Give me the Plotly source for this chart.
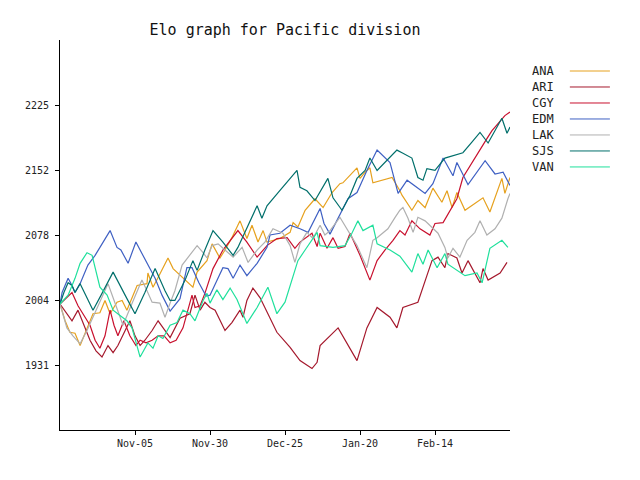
import plotly.graph_objects as go

# x = days since season start (Oct-11), y = Elo rating
ana_x = [0,1.7,3.3,5,6.7,9,11,13.3,15,16.7,19,20.7,22.3,25.7,29,29.3,31,32.7,36,37.7,39.3,44.3,45.7,49,50.7,53.3,55,57.3,60,62.3,64,66,67.7,69,73.3,76.7,77.7,79.3,81.7,85,87.7,90.7,93.3,94.3,99,100,101.7,103.3,104.3,107.3,110.7,113.3,114,117.3,119.3,121.7,124.3,127.3,129,130.7,132.3,135,141,143.3,147.3,148.3,150]
ana_y = [2000,1981,1968,1967,1953,1973,1989,1990,2004,1989,2002,2004,1993,2021,2023,2035,2019,2030,2052,2040,2035,2019,2036,2049,2068,2052,2061,2075,2094,2074,2089,2070,2083,2070,2074,2081,2092,2087,2106,2119,2109,2126,2136,2137,2154,2142,2149,2154,2137,2140,2143,2128,2123,2106,2117,2109,2131,2115,2128,2109,2126,2106,2120,2104,2142,2125,2143]

ari_x = [0,2,4,6,8,10,12,14,16,17.7,19.3,21.7,23.3,25,26.7,28.3,30.7,32.7,35,36.7,40,43.3,45,46.7,48.3,50,51.7,55,57.3,60,61,62.3,64.3,66.7,72.3,76.7,80,84,85.7,86.7,92.7,95.7,99,102.3,105.7,110,112.3,114.3,119.3,122.3,124,126,128.3,129.3,132.3,134,136,140,141,142.7,146.7,149]
ari_y = [2000,1990,1981,1993,1976,1959,1947,1940,1953,1945,1953,1970,1981,1964,1953,1959,1970,1981,1970,1962,1984,1989,2010,1993,2002,1996,1993,1970,1979,1993,1985,2004,2018,2007,1968,1951,1936,1927,1934,1953,1973,1955,1936,1973,1996,1985,1973,1996,2002,2032,2049,2053,2041,2057,2052,2035,2049,2024,2040,2027,2035,2047]

cgy_x = [0,1.7,4,6,8,10,11.7,13.3,15,16.7,18,19.3,21.3,23.3,25.3,26.7,28.7,30.7,32.7,34.7,36.7,38.7,41,44,45,46.7,48.3,51,54.3,59.3,62.3,65.7,69,72.3,75.7,78.3,80,84,85.7,86.7,89,91,92.7,95,96.7,100,103.3,105.7,108.3,111,113.3,115,117.3,120,123.3,125,127.7,130,132.3,134.3,137.3,140,142.3,144,146,148.3,150]
cgy_y = [2000,2006,2013,1998,1987,1976,1959,1950,1964,1993,1976,1964,1981,1964,1953,1959,1956,1959,1964,1964,1956,1959,1973,2010,1996,1998,2012,2040,2061,2083,2070,2053,2066,2074,2075,2063,2070,2080,2065,2080,2063,2075,2063,2065,2080,2055,2027,2049,2061,2072,2083,2078,2094,2085,2078,2091,2092,2106,2119,2143,2160,2174,2187,2196,2204,2213,2217]

edm_x = [0,0.7,2.7,4,5,6.7,9.3,11.7,16.7,19,20.3,22.7,25.3,28.7,31.7,34,36.7,40,42.3,44,46.3,48.7,50,54.3,56,57.7,60,62.3,65.7,69,70,73.3,76.7,80,82.7,86.7,88,90,96,99,100.7,102.3,105.7,110,112.7,115.7,121.7,124.3,127.7,131,132.3,136,141.7,145,147.7,150]
edm_y = [2000,2013,2029,2021,2013,2023,2044,2055,2083,2064,2061,2046,2070,2049,2029,2010,1992,2006,2041,2041,2024,2009,2010,2041,2040,2029,2044,2032,2046,2064,2078,2080,2089,2085,2081,2108,2091,2079,2119,2126,2140,2151,2174,2160,2125,2140,2125,2136,2165,2145,2160,2135,2162,2147,2149,2134]

lak_x = [0,2.3,4.3,6.7,9,11,13.3,16,17.7,19.3,21,23.3,25.7,27.3,29,30.7,33.3,35,36.7,38.3,40.7,43.3,45.7,47.7,49,50.7,52.7,55,57.7,60.7,62.7,65.7,68.3,71,74.3,76.7,78.3,80,82.3,84.3,86.7,88.3,90,93.3,96,99,102.3,104.3,105.7,109.3,111.7,113.3,114.3,116,117.7,119.3,121.7,124,126,128.3,129.3,131,133.3,135.7,138.3,140,142.3,145,147.3,149.3,150]
lak_y = [2000,1973,1964,1955,1970,1985,2004,2023,2007,1993,1976,1995,2015,2027,2015,2002,2001,1985,2001,2015,2044,2055,2066,2058,2052,2066,2068,2061,2053,2064,2047,2061,2070,2085,2080,2066,2047,2068,2081,2074,2089,2078,2083,2098,2083,2066,2041,2072,2075,2085,2098,2106,2109,2097,2081,2098,2094,2087,2080,2064,2052,2063,2053,2072,2081,2094,2078,2085,2097,2119,2125]

sjs_x = [0,1.3,2.7,4,5,6.7,8.7,11,13.7,17.7,21.7,25,28.3,31.7,35,36.7,38.3,41.7,44.3,45.7,48.3,51,54.3,57.7,59.3,62.7,65.7,67.3,69,72.7,76.7,79,80,82.3,85,87.3,89.3,91,94,96.7,99,101.7,103.3,105.7,109,112.3,114,117.3,119.3,121,122.3,125,128.3,131.7,134.3,137.3,140,142.7,145,147.3,149,150]
sjs_y = [2000,2013,2024,2021,2013,2023,2009,1993,2010,2036,2010,1989,2013,2040,2015,2004,2004,2027,2049,2038,2061,2083,2070,2055,2064,2089,2111,2097,2111,2126,2142,2151,2132,2128,2117,2131,2142,2120,2106,2123,2142,2151,2165,2151,2162,2174,2171,2165,2143,2140,2153,2151,2165,2168,2171,2183,2194,2182,2196,2210,2193,2200]

van_x = [0,2.7,5,6.7,9,10.7,11.7,13.3,15.7,17.7,20,22.3,24,26.7,29.3,31,32.7,34.3,36.7,39,41,43.3,45,47.7,49,50,52.3,54.3,56.7,59,62.3,65.7,69.3,72.3,75,77.3,79.3,81.7,84,85.7,86.7,91,95,97.3,99.3,101,104.3,105.7,110,113.3,117.3,119.3,121,122.7,125.7,128.3,129.3,135,139,140.7,143.3,147.3,149.3]
van_y = [2000,2010,2029,2046,2058,2055,2041,2019,2010,1993,1987,1981,1973,1940,1956,1950,1964,1961,1976,1979,1993,1989,1981,2004,2012,2001,2016,2005,2018,2005,1978,1996,2019,1989,2002,2027,2049,2061,2072,2081,2066,2064,2066,2080,2094,2083,2089,2068,2061,2054,2036,2057,2045,2061,2041,2057,2045,2032,2035,2024,2063,2072,2064]

teams = ["ANA", "ARI", "CGY", "EDM", "LAK", "SJS", "VAN"]
colors = ["#e6a11e", "#a5192d", "#c8102e", "#3f60c3", "#b0b0b0", "#006f6b", "#1fe09c"]
series_x = [ana_x, ari_x, cgy_x, edm_x, lak_x, sjs_x, van_x]
series_y = [ana_y, ari_y, cgy_y, edm_y, lak_y, sjs_y, van_y]

y_tickvals = [1931, 2004.5, 2078, 2151.5, 2225]
y_ticktext = ["1931", "2004", "2078", "2152", "2225"]
x_tickvals = [25, 50, 75, 100, 125]
x_ticktext = ["Nov-05", "Nov-30", "Dec-25", "Jan-20", "Feb-14"]

FONT = "DejaVu Sans Mono"

# The page body has an 8px margin, so the figure is sized/placed to compensate.
W, H = 624, 464

fig = go.Figure()
for name, c, xs, ys in zip(teams, colors, series_x, series_y):
    fig.add_trace(go.Scatter(x=xs, y=ys, mode="lines", name=name,
                             line=dict(color=c, width=1.2), showlegend=False))

# legend drawn as text followed by a line sample (like the reference)
for i, (name, c) in enumerate(zip(teams, colors)):
    yp = 0.9205 - i * 0.041
    fig.add_annotation(x=1.044, y=yp, xref="paper", yref="paper", text=name,
                       showarrow=False, xanchor="left", yanchor="middle",
                       font=dict(family=FONT, size=12, color="#222"))
    fig.add_shape(type="line", xref="paper", yref="paper",
                  x0=1.133, x1=1.222, y0=yp, y1=yp,
                  line=dict(color=c, width=1))

fig.update_layout(
    width=W, height=H,
    margin=dict(l=52, r=122, t=32, b=42, autoexpand=False),
    paper_bgcolor="white", plot_bgcolor="white",
    title=dict(text="Elo graph for Pacific division", x=277 / W,
               xanchor="center", y=1 - 22 / H, yanchor="middle",
               font=dict(family=FONT, size=15, color="#111")),
    font=dict(family=FONT, size=10, color="#222"),
    showlegend=False,
)
fig.update_xaxes(range=[0, 150], tickvals=x_tickvals, ticktext=x_ticktext,
                 showgrid=False, zeroline=False, showline=True, linecolor="black",
                 linewidth=1, ticks="outside", ticklen=4, tickcolor="black",
                 automargin=False,
                 tickfont=dict(family=FONT, size=10, color="#222"))
fig.update_yaxes(range=[1857.5, 2298.5], tickvals=y_tickvals, ticktext=y_ticktext,
                 showgrid=False, zeroline=False, showline=True, linecolor="black",
                 linewidth=1, ticks="outside", ticklen=4, tickcolor="black",
                 automargin=False, ticklabelstandoff=4,
                 tickfont=dict(family=FONT, size=10, color="#222"))

fig.write_html("out.html")
